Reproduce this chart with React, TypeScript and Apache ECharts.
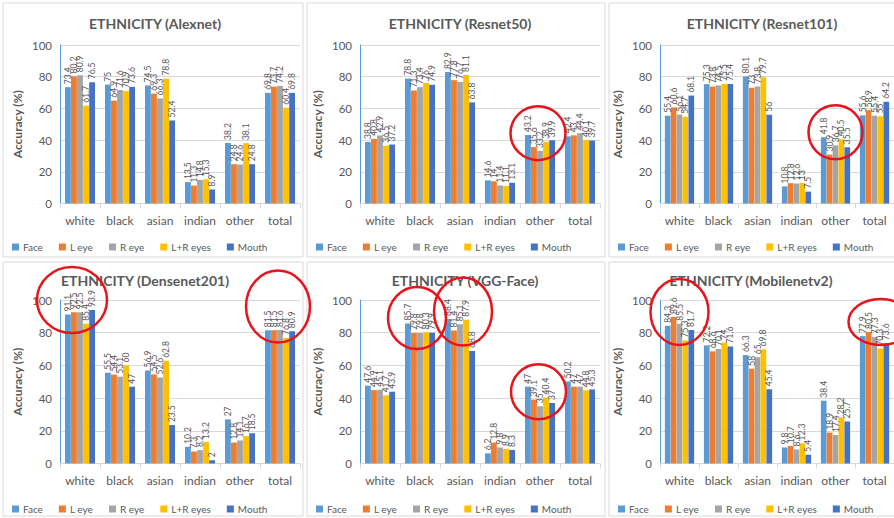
import React, { useEffect, useRef } from "react";
import * as echarts from "echarts";

const categories = ["white", "black", "asian", "indian", "other", "total"];
const seriesNames = ["Face", "L eye", "R eye", "L+R eyes", "Mouth"];
const seriesColors = ["#5b9bd5", "#ed7d31", "#a5a5a5", "#ffc000", "#4472c4"];
const yTicks = [0, 20, 40, 60, 80, 100];

// Accuracy (%) per model; one row per feature set, one column per category
const alexnet = [
  [73.4, 75, 74.5, 13.5, 38.2, 69.8],
  [80.2, 64.9, 69.3, 11.3, 24.8, 73.7],
  [80.9, 71.6, 66.3, 14.8, 24.6, 74.2],
  [61.7, 70.9, 78.8, 15.3, 38.1, 60.4],
  [76.5, 73.6, 52.4, 8.9, 24.8, 69.8],
];
const resnet50 = [
  [38.8, 78.8, 82.9, 14.6, 43.2, 42.4],
  [40.8, 71.3, 77.8, 14, 35.6, 43],
  [42.9, 73.4, 76.7, 11.4, 33.2, 44.4],
  [36.5, 76, 81.1, 11.1, 38.9, 40.1],
  [37.2, 74.9, 63.8, 13.1, 39.9, 39.7],
];
const resnet101 = [
  [55.4, 75.3, 80.1, 10.8, 41.8, 55.6],
  [60.6, 73.8, 73, 12.8, 30.9, 58.9],
  [56.1, 74.5, 73.8, 12.6, 36.7, 55.4],
  [54.7, 75.5, 79.7, 13, 40.5, 55],
  [68.1, 75.4, 56, 7.5, 35.5, 64.2],
];
const densenet201 = [
  [91.1, 55.5, 56.9, 10.2, 27, 81.5],
  [92.5, 54.4, 54.5, 7.3, 12.8, 81.5],
  [92.5, 53.1, 52.6, 8.2, 14.1, 81.6],
  [85.4, 60, 62.8, 13.2, 16.7, 76.8],
  [93.9, 47, 23.5, 2, 18.5, 80.9],
];
const vggFace = [
  [47.6, 85.7, 88.4, 6.2, 47, 50.2],
  [44.9, 79.8, 81.4, 12.8, 39.1, 47],
  [45.1, 79.8, 85.1, 9.8, 35, 47],
  [41.7, 80.3, 87.9, 8.9, 40.4, 44.8],
  [43.9, 79.9, 68.8, 8.3, 37, 45.3],
];
const mobilenetv2 = [
  [84.3, 72.2, 66.3, 9.8, 38.4, 77.9],
  [89.6, 68.6, 58, 10.7, 18.9, 80.5],
  [85.5, 70.1, 65, 8.6, 17.4, 77.3],
  [75.3, 74, 69.8, 12.3, 28.2, 70.3],
  [81.7, 71.6, 45.4, 5.4, 25.7, 73.6],
];

const modelTitles = [
  "ETHNICITY (Alexnet)",
  "ETHNICITY (Resnet50)",
  "ETHNICITY (Resnet101)",
  "ETHNICITY (Densenet201)",
  "ETHNICITY (VGG-Face)",
  "ETHNICITY (Mobilenetv2)",
];
const modelValues = [alexnet, resnet50, resnet101, densenet201, vggFace, mobilenetv2];

// Highlight rings: panel, category index, value at ring centre
const highlights = [
  { panel: 1, cat: 4, value: 44.4, dx: -2, rx: 27.5, ry: 27 },
  { panel: 2, cat: 4, value: 45, dx: 0, rx: 27, ry: 27 },
  { panel: 3, cat: 0, value: 100, dx: -8, rx: 35, ry: 33 },
  { panel: 3, cat: 5, value: 96, dx: -2, rx: 32, ry: 36 },
  { panel: 4, cat: 1, value: 89, dx: -3, rx: 29, ry: 31 },
  { panel: 4, cat: 2, value: 93, dx: 3, rx: 29, ry: 34 },
  { panel: 4, cat: 4, value: 43.9, dx: -1.5, rx: 27.5, ry: 27.5 },
  { panel: 5, cat: 0, value: 92.7, dx: 0, rx: 29, ry: 33 },
  { panel: 5, cat: 5, value: 86.5, dx: 6, rx: 32, ry: 23 },
];

const FONT = "Lato, 'Liberation Sans', sans-serif";
const TEXT = "#595959";

// panel columns and plot boxes
const colX = [0, 304, 606];
const plotLeft = [60, 360, 660];
const plotTop = [45, 300];
const plotHeight = [158.5, 163.5];
const titleCenter = [150, 455, 757, 140, 460, 746];

export default function App() {
  const ref = useRef<HTMLDivElement>(null);

  useEffect(() => {
    if (!ref.current) return;
    const chart = echarts.init(ref.current, null, { renderer: "svg" });

    const grids: any[] = [];
    const xAxes: any[] = [];
    const yAxes: any[] = [];
    const titles: any[] = [];
    const legends: any[] = [];
    const series: any[] = [];

    modelValues.forEach((vals, p) => {
      const col = p % 3;
      const row = Math.floor(p / 3);
      grids.push({
        left: plotLeft[col],
        top: plotTop[row],
        width: 240,
        height: plotHeight[row],
        containLabel: false,
      });
      xAxes.push({
        type: "category",
        gridIndex: p,
        data: categories,
        axisLine: { lineStyle: { color: "#d9d9d9" } },
        axisTick: { show: true, length: 5, lineStyle: { color: "#d9d9d9" } },
        axisLabel: { color: TEXT, fontSize: 12, fontFamily: FONT, margin: 11, interval: 0 },
      });
      yAxes.push({
        type: "value",
        gridIndex: p,
        min: yTicks[0],
        max: yTicks[yTicks.length - 1],
        interval: 20,
        name: "Accuracy (%)",
        nameLocation: "middle",
        nameGap: 37,
        nameTextStyle: { color: TEXT, fontSize: 12, fontWeight: "bold", fontFamily: FONT },
        axisLine: { show: true, lineStyle: { color: "#5b9bd5" } },
        axisTick: { show: false },
        splitLine: { lineStyle: { color: "#d9d9d9" } },
        axisLabel: { color: TEXT, fontSize: 11.5, fontFamily: FONT, margin: 8 },
      });
      titles.push({
        text: modelTitles[p],
        left: titleCenter[p],
        textAlign: "center",
        top: row === 0 ? 11 : 268,
        textStyle: { color: TEXT, fontSize: 14, fontWeight: "bold", fontFamily: FONT },
      });
      legends.push({
        data: seriesNames,
        left: colX[col] + 7,
        top: row === 0 ? 237 : 499,
        icon: "rect",
        itemWidth: 7,
        itemHeight: 7,
        itemGap: 16,
        textStyle: { color: TEXT, fontSize: 10, fontFamily: FONT, padding: [0, 0, 0, -1] },
        selectedMode: false,
      });
      vals.forEach((row5, s) => {
        series.push({
          type: "bar",
          name: seriesNames[s],
          xAxisIndex: p,
          yAxisIndex: p,
          data: row5,
          barGap: "4%",
          barCategoryGap: "25%",
          itemStyle: { color: seriesColors[s] },
          label: {
            show: true,
            position: "top",
            rotate: 90,
            align: "left",
            verticalAlign: "middle",
            distance: 3,
            fontSize: 8.5,
            color: TEXT,
            fontFamily: FONT,
          },
        });
      });
    });

    chart.setOption({
      animation: false,
      backgroundColor: "#ffffff",
      title: titles,
      legend: legends,
      grid: grids,
      xAxis: xAxes,
      yAxis: yAxes,
      series,
    });

    const frames: any[] = [];
    const frameW = [300, 298, 300];
    [0, 1].forEach((row) => {
      colX.forEach((x, col) => {
        frames.push({
          type: "rect",
          shape: { x: x + 3, y: row === 0 ? 3 : 262, width: frameW[col], height: 254 },
          style: { fill: "none", stroke: "#d9d9d9", lineWidth: 1 },
          silent: true,
          z: -1,
        });
      });
    });
    const rings = highlights.map((h) => {
      const pt = chart.convertToPixel({ gridIndex: h.panel }, [h.cat, h.value]) as number[];
      return {
        type: "ellipse",
        shape: { cx: pt[0] + h.dx, cy: pt[1], rx: h.rx, ry: h.ry },
        style: { fill: "none", stroke: "#e8141c", lineWidth: 2.5 },
        silent: true,
        z: 100,
      };
    });
    chart.setOption({ graphic: [...frames, ...rings] });

    return () => chart.dispose();
  }, []);

  return (
    <div
      ref={ref}
      style={{ position: "fixed", left: 0, top: 0, width: 894, height: 518, background: "#fff" }}
    />
  );
}
